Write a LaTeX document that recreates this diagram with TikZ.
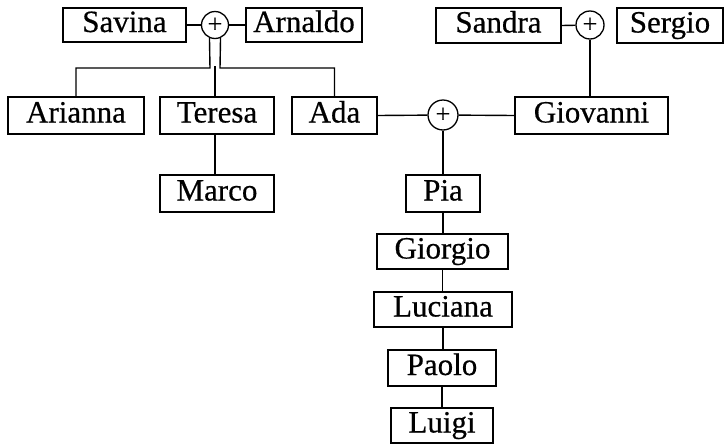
\documentclass[tikz,border=0pt]{standalone}
\usepackage{fontspec}
\setmainfont{Liberation Serif}
\newfontfamily\boxfont[FakeBold=0.5]{Liberation Serif}
\begin{document}
\begin{tikzpicture}[x=1pt,y=-1pt,
  box/.style={draw,line width=1.5pt,rectangle,inner sep=0pt,
    font=\boxfont\fontsize{31}{31}\selectfont,text height=19pt,text depth=5pt},
  plus/.style={draw,line width=1.3pt,circle,inner sep=0pt,
    font=\boxfont\fontsize{26}{26}\selectfont},
  link/.style={line width=1.4pt}]
\useasboundingbox[fill=white] (0,0) rectangle (724,445);
% top row
\node[box,minimum width=123pt,minimum height=34pt] (savina) at (124.5,25) {Savina};
\node[plus,minimum size=27pt] (c1) at (215,25) {+};
\node[box,minimum width=116pt,minimum height=34pt] (arnaldo) at (304,25) {Arnaldo};
\node[box,minimum width=125pt,minimum height=35pt] (sandra) at (498.5,25.5) {Sandra};
\node[plus,minimum size=28pt] (c2) at (590,25) {+};
\node[box,minimum width=106pt,minimum height=35pt] (sergio) at (670,25.5) {Sergio};
% second row
\node[box,minimum width=136pt,minimum height=37pt] (arianna) at (76,115.5) {Arianna};
\node[box,minimum width=114pt,minimum height=37pt] (teresa) at (217,115.5) {Teresa};
\node[box,minimum width=85pt,minimum height=37pt] (ada) at (334.5,115.5) {Ada};
\node[plus,minimum size=30pt] (c3) at (443,115) {+};
\node[box,minimum width=153pt,minimum height=37pt] (giovanni) at (591.5,115.5) {Giovanni};
% lower
\node[box,minimum width=114pt,minimum height=37pt] (marco) at (217,193.5) {Marco};
\node[box,minimum width=74pt,minimum height=37pt] (pia) at (443,193.5) {Pia};
\node[box,minimum width=131pt,minimum height=35pt] (giorgio) at (442.5,251.5) {Giorgio};
\node[box,minimum width=138pt,minimum height=35pt] (luciana) at (443,309.5) {Luciana};
\node[box,minimum width=108pt,minimum height=36pt] (paolo) at (442,368) {Paolo};
\node[box,minimum width=102pt,minimum height=35pt] (luigi) at (442,425.5) {Luigi};
% junctions
\coordinate (jl) at (210,68);
\coordinate (jr) at (220,68);
\coordinate (jm) at (215,66);
% connectors
\draw[link] (savina.east) -- (c1);
\draw[link] (c1) -- (arnaldo.west);
\draw[link] (sandra.east) -- (c2);
\draw[link] (c2) -- (c2 |- giovanni.north);
\draw[link] (c1.-113) -- (jl) -| (arianna.north);
\draw[link] (c1.-67) -- (jr) -| (ada.north);
\draw[link] (jm) -- (jm |- teresa.north);
\draw[link] (jm |- teresa.south) -- (jm |- marco.north);
\draw[link] (ada.east) -- (c3);
\draw[link] (c3) -- (giovanni.west);
\draw[link] (c3) -- (c3 |- pia.north);
\draw[link] (pia.south) -- (pia.south |- giorgio.north);
\draw[link] (giorgio.south) -- (giorgio.south |- luciana.north);
\draw[link] (luciana.south) -- (luciana.south |- paolo.north);
\draw[link] (paolo.south) -- (paolo.south |- luigi.north);
\end{tikzpicture}
\end{document}
